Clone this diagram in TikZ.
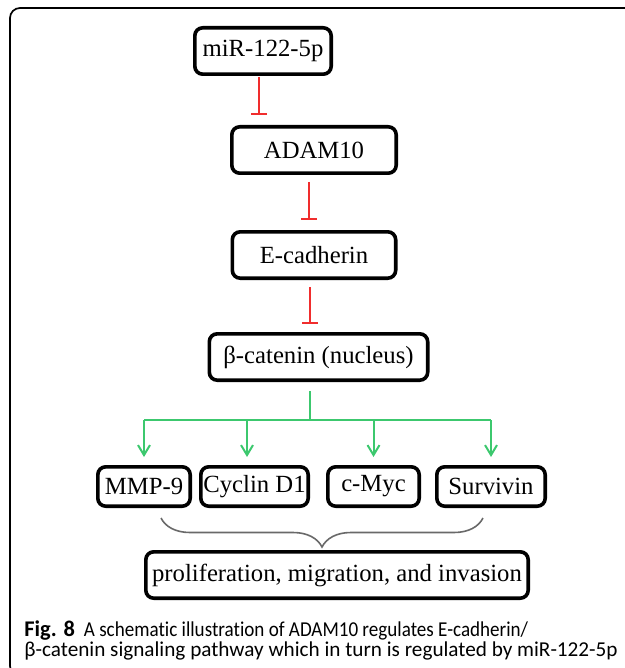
\documentclass[tikz,border=0pt]{standalone}
\usepackage{fontspec}
\setmainfont{Liberation Serif}
\newfontfamily\capfont[Ligatures=NoCommon]{Carlito}
\usetikzlibrary{arrows.meta,positioning,decorations.pathreplacing}
\definecolor{inhred}{RGB}{240,45,45}
\definecolor{actgreen}{RGB}{60,200,110}
\definecolor{bracegray}{RGB}{105,105,105}

\begin{document}
\begin{tikzpicture}[
		x=0.5pt, y=-0.5pt,
		auto,
		box/.style={rectangle, rounded corners=4pt, draw=black, line width=1.8pt, fill=white, minimum height=23.2pt, inner sep=0pt, font=\fontsize{12.35}{14}\selectfont},
		smallbox/.style={box, minimum height=19.7pt},
		inh/.style={draw=inhred, line width=1pt, -{Bar[width=8pt,line width=1pt]}, shorten <=3.5pt, shorten >=5pt},
		act/.style={draw=actgreen, line width=1pt},
		actarr/.style={act, -{Straight Barb[length=5pt,width=6pt]}, shorten >=4pt}
	]
	\useasboundingbox (0,0) rectangle (625,668);
	\clip (0,0) rectangle (625,668);

	% figure frame
	\draw[line width=0.85pt, rounded corners=5pt] (40,676) -- (10,676) -- (10,8) -- (640,8);

	% main chain
	\node[box, minimum width=68.2pt] (mir) at (263,51) {miR-122-5p};
	\node[box, minimum width=82.2pt] (adam) [below=24.5pt of mir, xshift=25.5pt] {ADAM10};
	\node[box, minimum width=81.7pt] (ecad) [below=27.5pt of adam] {E-cadherin};
	\node[box, minimum width=109.2pt] (bcat) [below=26pt of ecad, xshift=2.25pt] {β-catenin (nucleus)};

	% target genes
	\node[smallbox, minimum width=46.2pt] (mmp) at (144,486.5) {MMP-9};
	\node[smallbox, minimum width=53.7pt] (ccnd) [right=3.5pt of mmp] {Cyclin D1};
	\node[smallbox, minimum width=45.7pt] (myc) [right=8pt of ccnd] {c-Myc};
	\node[smallbox, minimum width=54.2pt] (surv) [right=7pt of myc] {Survivin};

	\node[box, minimum width=191.2pt] (prolif) at (337,575) {proliferation, migration, and invasion};

	% inhibition
	\draw[inh, shorten <=0.5pt] ([xshift=-2pt]mir.south) -- ([xshift=-2pt]mir.south |- adam.north);
	\draw[inh] ([xshift=-2.5pt]adam.south) -- ([xshift=-2.5pt]adam.south |- ecad.north);
	\draw[inh, shorten >=4pt] ([xshift=-2.25pt]ecad.south) -- ([xshift=-2.25pt]ecad.south |- bcat.north);

	% activation
	\coordinate (split) at ([xshift=-4.5pt,yshift=-19pt]bcat.south);
	\coordinate (ccndtop) at ([xshift=-3.75pt]ccnd.north);
	\draw[act] ([xshift=-4.5pt,yshift=-4.5pt]bcat.south) -- (split);
	\draw[act] (split -| mmp.north) -- (split -| surv.north);
	\draw[actarr] (split -| mmp.north) -- (mmp.north);
	\draw[actarr] (split -| ccndtop) -- (ccndtop);
	\draw[actarr] (split -| myc.north) -- (myc.north);
	\draw[actarr] (split -| surv.north) -- (surv.north);

	\draw[bracegray, line width=0.8pt, decorate, decoration={brace, mirror, amplitude=14.5pt}]
		([xshift=8.5pt,yshift=-5pt]mmp.south) -- ([xshift=-4pt,yshift=-5pt]surv.south);

	% caption
	\node[anchor=north west, align=left, inner sep=0pt, font=\capfont\fontsize{10.6}{10}\selectfont] (cap) at (24,620)
		{\textbf{\fontsize{11.2}{10}\selectfont Fig. 8}\hspace{4.5pt}\scalebox{0.9}[1]{A schematic illustration of ADAM10 regulates E-cadherin/}\\β-catenin signaling pathway which in turn is regulated by miR-122-5p};
\end{tikzpicture}
\end{document}
